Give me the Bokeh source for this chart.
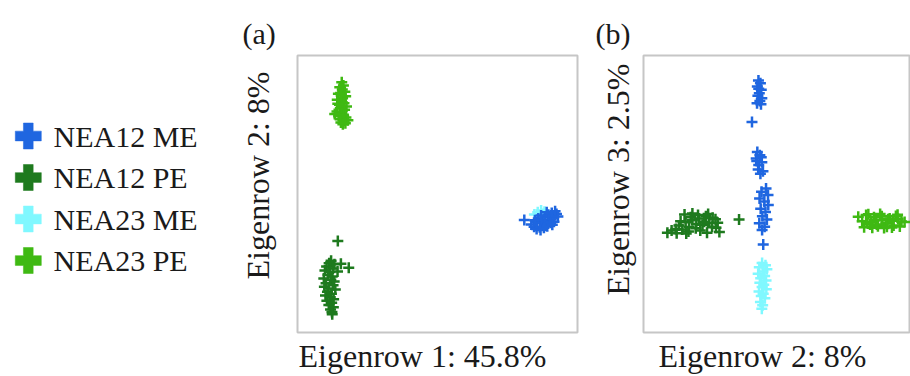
from bokeh.plotting import figure
from bokeh.layouts import row
from bokeh.models import Range1d, Title
from bokeh.core.properties import value
from bokeh.embed import file_html
from bokeh.resources import INLINE

# ---------------- data ----------------
series = ["NEA12 ME", "NEA12 PE", "NEA23 ME", "NEA23 PE"]
colors = ["#1f66e0", "#1e7a1e", "#80f8ff", "#3fb913"]

panel_titles = ["(a)", "(b)"]
a_xlabel = "Eigenrow 1: 45.8%"
a_ylabel = "Eigenrow 2: 8%"
b_xlabel = "Eigenrow 2: 8%"
b_ylabel = "Eigenrow 3: 2.5%"

# panel (a): Eigenrow 1 vs Eigenrow 2 (arbitrary score units)
a_nea12me_x = [81.0, 83.5, 84.5, 85.5, 86.5, 87.5, 88.5, 89.5, 90.5, 91.5, 92.5, 84.8, 86.0, 87.2,
               88.4, 89.6, 90.8, 92.0, 85.4, 86.8, 88.0, 89.2, 90.4, 91.6, 87.0, 89.0, 91.0, 93.0]
a_nea12me_y = [40.6, 39.0, 38.2, 39.8, 38.0, 39.5, 38.9, 40.2, 40.8, 41.5, 42.8, 40.5, 41.2, 40.6,
               41.8, 42.5, 43.1, 43.8, 37.4, 37.0, 37.8, 38.4, 39.6, 40.0, 42.2, 43.4, 38.9, 41.9]
a_nea12pe_x = [12.0, 11.3, 13.2, 10.4, 12.6, 9.8, 11.6, 14.3, 10.9, 12.4, 9.4, 11.9, 13.1, 10.2, 12.7,
               9.6, 11.1, 13.5, 10.7, 12.1, 10.0, 11.7, 12.9, 10.5, 12.2, 11.2, 12.8, 11.8, 12.3, 12.4,
               15.5, 14.4, 18.3]
a_nea12pe_y = [25.9, 25.0, 24.6, 23.8, 23.1, 22.4, 21.8, 22.0, 20.8, 20.2, 19.5, 19.0, 18.4, 17.8, 17.1,
               16.5, 15.9, 15.5, 14.7, 14.0, 13.4, 12.7, 12.0, 11.5, 10.7, 9.9, 9.1, 8.3, 7.4, 6.6,
               24.8, 33.0, 23.4]
a_nea23me_x = [84.6, 85.8, 87.0, 88.2, 86.2, 87.6]
a_nea23me_y = [42.6, 43.4, 44.0, 43.6, 42.2, 42.8]
a_nea23pe_x = [15.8, 16.4, 15.1, 16.0, 16.9, 14.6, 15.4, 17.2, 16.1, 14.2, 15.7, 16.6, 15.0, 17.5, 15.3,
               16.8, 14.1, 15.8, 16.4, 14.7, 17.3, 15.2, 16.7, 13.3, 15.5, 18.0, 14.4, 16.2, 17.1, 15.6]
a_nea23pe_y = [90.3, 89.2, 88.5, 87.7, 86.9, 86.2, 86.5, 85.3, 84.6, 84.0, 83.4, 82.8, 82.2, 81.6, 81.0,
               80.4, 79.8, 79.3, 78.6, 78.1, 77.6, 77.0, 76.5, 78.9, 75.8, 76.6, 82.6, 75.2, 75.5, 85.6]

# panel (b): Eigenrow 2 vs Eigenrow 3
b_nea12me_x = [40.9, 41.6, 40.5, 41.9, 41.2, 40.7, 42.1, 41.4, 40.4, 41.8, 41.0, 38.6,
               40.5, 41.4, 40.1, 42.1, 41.0, 40.8, 42.5, 41.6, 40.3, 41.9,
               43.6, 42.0, 44.3, 41.3, 43.0, 44.4, 41.7, 43.4, 42.3, 43.9, 41.2, 43.1, 42.2, 42.6]
b_nea12me_y = [91.0, 90.0, 88.8, 87.6, 86.4, 85.5, 84.6, 83.6, 82.8, 82.4, 88.0, 76.0,
               65.2, 64.0, 62.8, 61.5, 60.5, 58.8, 58.2, 57.3, 61.9, 63.3,
               52.0, 50.8, 49.6, 48.4, 47.3, 46.0, 44.7, 43.5, 42.0, 40.8, 39.4, 38.2, 37.0, 31.8]
b_nea12pe_x = [8.5, 10.0, 11.5, 12.6, 13.8, 15.0, 16.2, 17.4, 18.6, 19.8, 21.0, 22.2, 23.4, 24.6, 25.8,
               27.0, 11.8, 13.2, 14.6, 16.0, 17.4, 18.8, 20.2, 21.6, 23.0, 24.4, 25.6, 16.8, 19.4, 22.6,
               26.4, 15.2, 34.0]
b_nea12pe_y = [36.0, 36.8, 37.4, 38.6, 37.2, 39.8, 38.1, 40.5, 37.6, 41.2, 38.9, 42.0, 39.5, 41.4, 37.8,
               36.3, 35.8, 40.2, 42.6, 36.5, 43.0, 39.2, 36.8, 40.0, 42.8, 38.2, 40.9, 41.6, 42.4, 36.0,
               39.6, 35.7, 40.8]
b_nea23me_x = [42.2, 43.4, 41.2, 43.9, 42.5, 40.8, 43.1, 41.7, 43.6, 41.4, 42.8, 42.2, 43.7, 41.1, 42.6,
               41.9, 43.2, 41.6, 42.4, 42.1]
b_nea23me_y = [25.1, 24.3, 23.6, 22.8, 22.0, 21.2, 20.4, 19.6, 18.8, 18.0, 17.2, 16.4, 15.6, 14.8, 14.0,
               13.2, 12.4, 11.0, 9.8, 8.6]
b_nea23pe_x = [76.4, 77.8, 79.2, 80.6, 82.0, 83.4, 84.8, 86.2, 87.6, 89.0, 90.4, 91.8, 92.9, 78.5, 80.0,
               81.4, 82.8, 84.2, 85.6, 87.0, 88.4, 89.8, 91.2, 79.6, 83.0, 86.6, 88.8, 90.6, 81.0, 85.0]
b_nea23pe_y = [41.8, 40.2, 42.4, 39.0, 41.6, 38.4, 42.0, 39.4, 41.2, 38.6, 42.5, 40.1, 39.9, 38.0, 42.7,
               37.8, 40.6, 42.8, 37.7, 40.9, 37.9, 42.1, 38.3, 39.6, 39.0, 38.2, 40.3, 41.0, 40.0, 40.5]

# ---------------- style ----------------
FONT = "Liberation Serif"
TXT = "#1a1a1a"
H = 376
TOP = 55
BOTTOM = 44

def style_fig(p):
    p.background_fill_color = "white"
    p.border_fill_color = "white"
    p.outline_line_color = "#c6c6c6"
    p.outline_line_width = 2
    p.grid.visible = False

def add_labels(p, title, xlabel, ylabel, title_off, x_off, y_off, y_standoff):
    p.title.text = title
    p.title.align = "left"
    p.title.offset = title_off
    p.title.standoff = 11
    p.title.text_font = FONT
    p.title.text_font_size = "30px"
    p.title.text_font_style = "normal"
    p.title.text_color = TXT
    p.add_layout(Title(text=xlabel, align="left", offset=x_off, standoff=6,
                       text_font=FONT, text_font_size="32px", text_font_style="normal",
                       text_color=TXT), "below")
    p.add_layout(Title(text=ylabel, align="left", offset=y_off, standoff=y_standoff,
                       text_font=FONT, text_font_size="32px", text_font_style="normal",
                       text_color=TXT), "left")

def draw(p, data):
    # draw order: NEA23 ME, NEA12 ME, NEA12 PE, NEA23 PE
    for idx in [2, 0, 1, 3]:
        xs, ys = data[idx]
        p.scatter(xs, ys, marker="cross", size=11, line_color=colors[idx], line_width=2.5)

# ---------------- legend figure ----------------
leg = figure(width=208, height=H, output_backend="svg", toolbar_location=None,
             x_range=Range1d(0, 208), y_range=Range1d(4.735, -1.940),
             x_axis_location=None, y_axis_location=None,
             min_border_left=0, min_border_right=0, min_border_top=TOP, min_border_bottom=BOTTOM)
leg.background_fill_color = "white"
leg.border_fill_color = "white"
leg.outline_line_color = None
leg.grid.visible = False
idxs = list(range(len(series)))
leg.scatter([27.8] * len(series), idxs, marker="plus", size=26, fill_color=colors,
            line_color=colors, line_width=0.5)
leg.text([53] * len(series), idxs, text=series, text_baseline="middle", text_align="left",
         text_font=value(FONT), text_font_size=value("30px"), text_color=TXT)

# ---------------- panel (a) ----------------
pa = figure(width=374, height=H, output_backend="svg", toolbar_location=None,
            x_range=Range1d(0, 100), y_range=Range1d(0, 100),
            x_axis_location=None, y_axis_location=None,
            min_border_left=89, min_border_right=5, min_border_top=TOP, min_border_bottom=BOTTOM)
style_fig(pa)
add_labels(pa, panel_titles[0], a_xlabel, a_ylabel, -55, 1, 53, 44)
draw(pa, [(a_nea12me_x, a_nea12me_y), (a_nea12pe_x, a_nea12pe_y),
          (a_nea23me_x, a_nea23me_y), (a_nea23pe_x, a_nea23pe_y)])

# ---------------- panel (b) ----------------
pb = figure(width=328, height=H, output_backend="svg", toolbar_location=None,
            x_range=Range1d(0, 95.0), y_range=Range1d(0, 100),
            x_axis_location=None, y_axis_location=None,
            min_border_left=61, min_border_right=0, min_border_top=TOP, min_border_bottom=BOTTOM)
style_fig(pb)
add_labels(pb, panel_titles[1], b_xlabel, b_ylabel, -48, 15, 37, 16)
draw(pb, [(b_nea12me_x, b_nea12me_y), (b_nea12pe_x, b_nea12pe_y),
          (b_nea23me_x, b_nea23me_y), (b_nea23pe_x, b_nea23pe_y)])

layout = row(leg, pa, pb)
open("out.html", "w").write(file_html(layout, INLINE))
